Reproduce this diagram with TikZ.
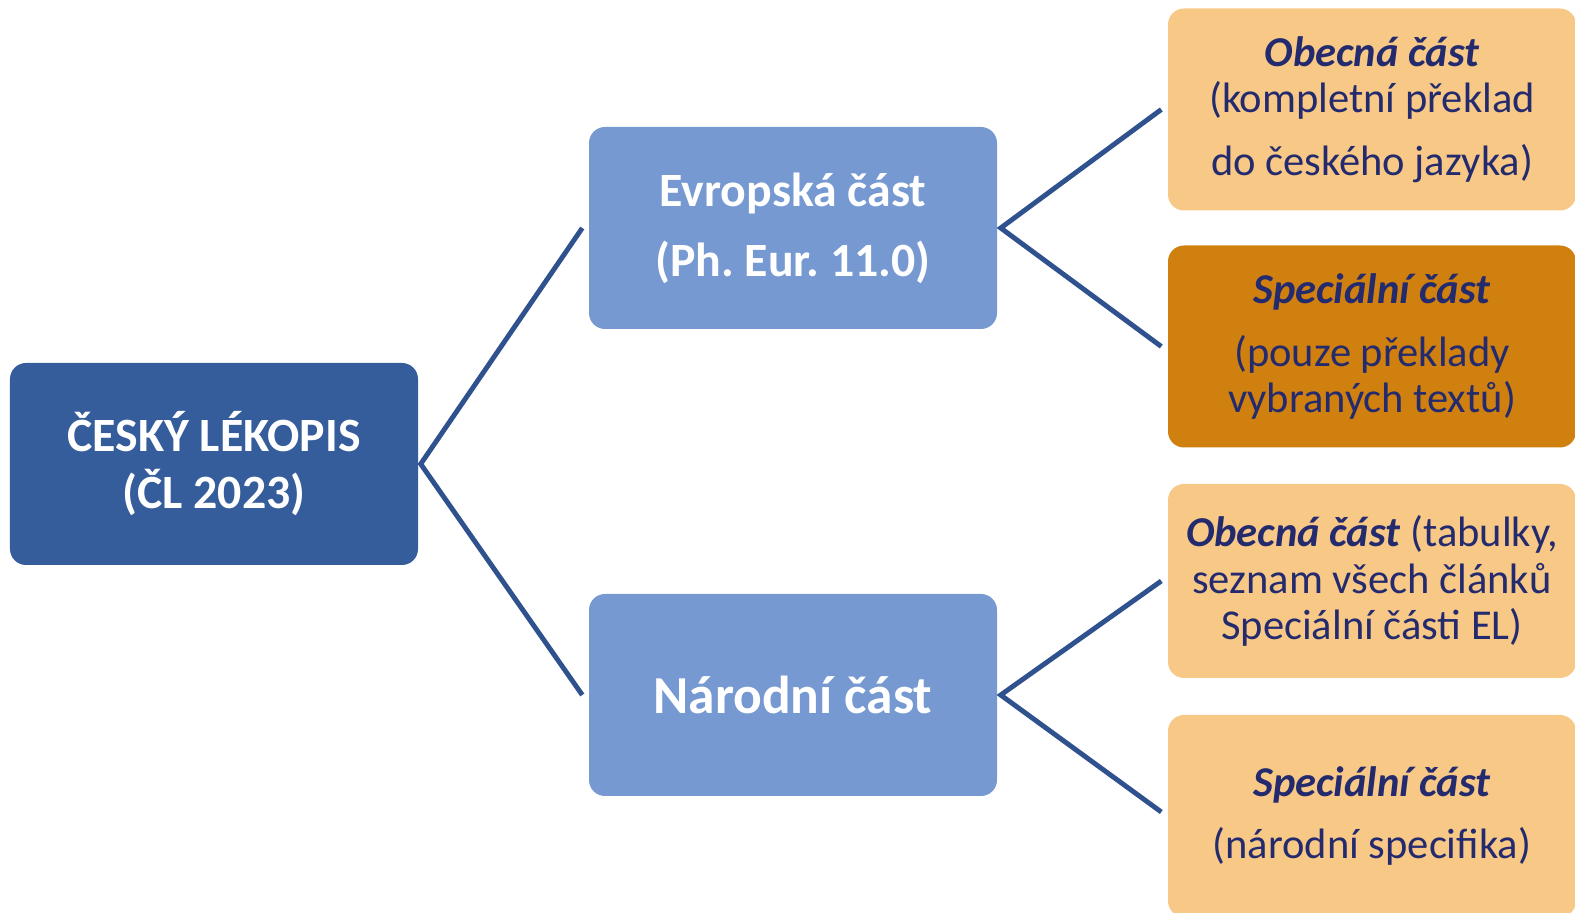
\documentclass[tikz,border=0pt]{standalone}
\usepackage{fontspec}
\setmainfont{Carlito}
\frenchspacing
\definecolor{rootblue}{HTML}{355C9B}
\definecolor{partblue}{HTML}{7599D0}
\definecolor{lightorange}{HTML}{F7C886}
\definecolor{darkorange}{HTML}{D0800E}
\definecolor{navytext}{HTML}{232A6E}
\definecolor{linkblue}{HTML}{2F528F}
\newcommand{\gap}{\\[4.6pt]}
\tikzset{
  lkbox/.style={rounded corners=0.16cm, minimum width=4.08cm, minimum height=2.02cm,
    align=center, inner sep=0pt},
  rootbox/.style={lkbox, fill=rootblue, text=white,
    font=\fontsize{13.6}{16.2}\selectfont\bfseries},
  partbox/.style={lkbox, fill=partblue, text=white},
  subbox/.style={lkbox, fill=lightorange, text=navytext,
    font=\fontsize{12.1}{13.2}\selectfont},
  link/.style={draw=linkblue, line width=1.4pt},
}
\begin{document}
\begin{tikzpicture}
\useasboundingbox (0,0) rectangle (15.75,-9.13);

% root
\node[rootbox] (root) at (2.14,-4.64) {ČESKÝ LÉKOPIS\\(ČL 2023)};

% parts
\node[partbox, font=\fontsize{13.6}{19.9}\selectfont\bfseries] (evr) at (7.93,-2.28)
  {Evropská část\\(Ph. Eur. 11.0)};
\node[partbox, font=\fontsize{15.2}{18}\selectfont\bfseries] (nar) at (7.93,-6.95)
  {Národní část};

% european subparts
\node[subbox] (ob1) at (13.72,-1.095)
  {\textbf{\textit{Obecná část}}\\(kompletní překlad\gap do českého jazyka)};
\node[subbox, fill=darkorange] (sp1) at (13.72,-3.465)
  {\textbf{\textit{Speciální část}}\gap (pouze překlady\\vybraných textů)};

% national subparts
\node[subbox, minimum height=1.94cm] (ob2) at (13.72,-5.81)
  {\textbf{\textit{Obecná část}} (tabulky,\\seznam všech článků\\Speciální části EL)};
\node[subbox] (sp2) at (13.72,-8.16)
  {\textbf{\textit{Speciální část}}\gap (národní specifika)};

% links
\draw[link] ([xshift=-0.06cm]evr.west) -- ([xshift=0.02cm]root.east) -- ([xshift=-0.06cm]nar.west);
\draw[link] ([xshift=-0.06cm]ob1.west) -- ([xshift=0.03cm]evr.east) -- ([xshift=-0.06cm]sp1.west);
\draw[link] ([xshift=-0.06cm]ob2.west) -- ([xshift=0.03cm]nar.east) -- ([xshift=-0.06cm,yshift=0.04cm]sp2.west);
\end{tikzpicture}
\end{document}
